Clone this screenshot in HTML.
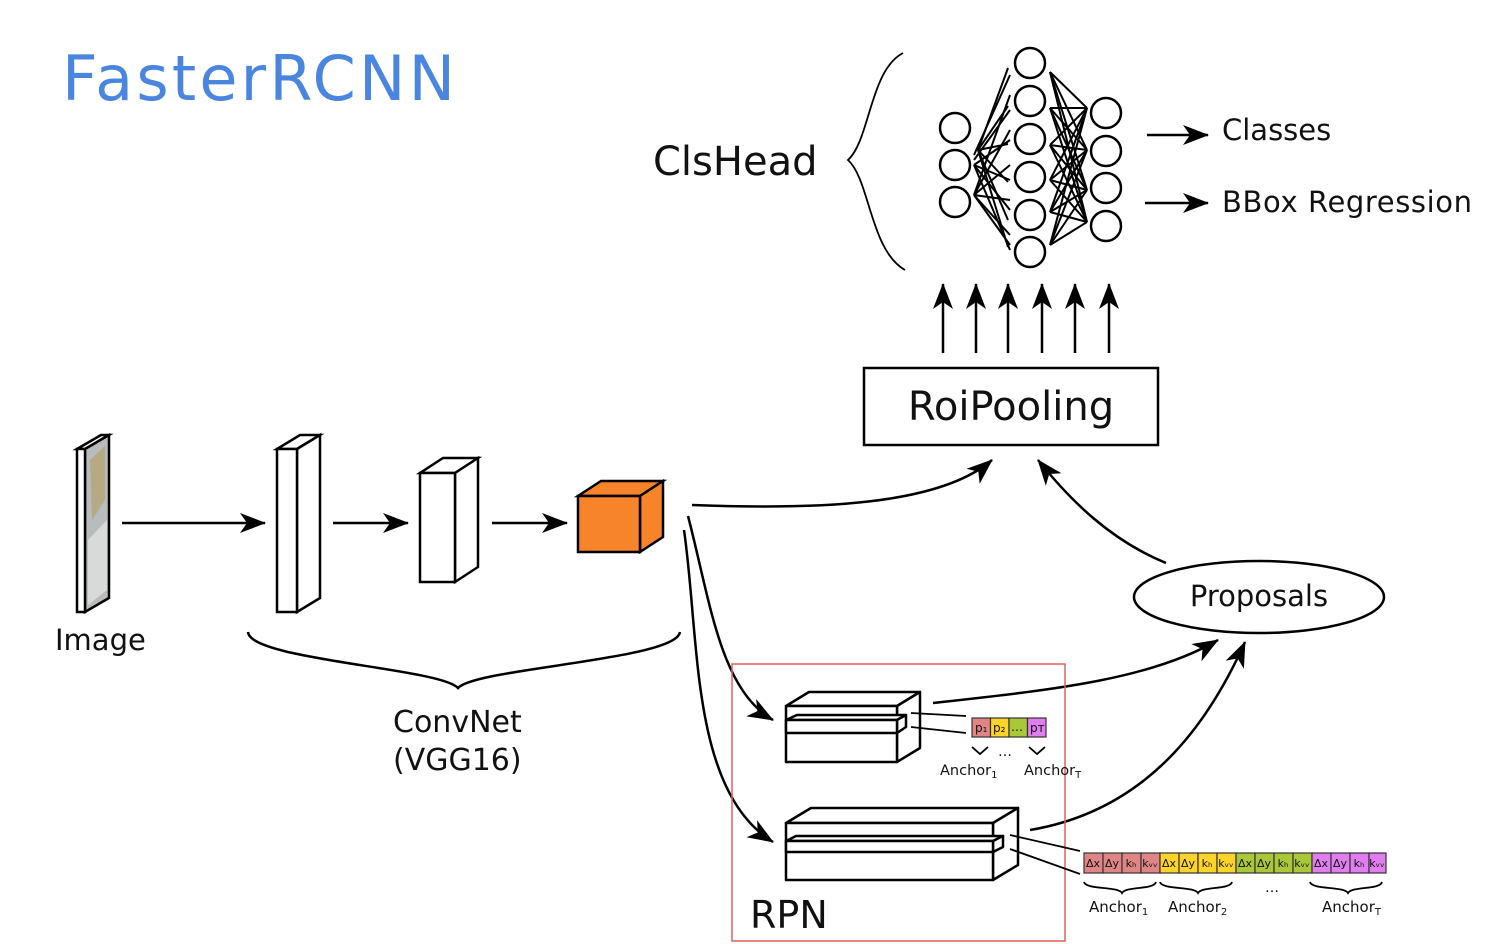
<!DOCTYPE html>
<html><head><meta charset="utf-8"><style>
html,body{margin:0;padding:0;background:#fff;}
svg{display:block;}
text{font-family:"DejaVu Sans","Liberation Sans",sans-serif;fill:#111;}
</style></head><body>
<svg width="1486" height="944" viewBox="0 0 1486 944" xmlns="http://www.w3.org/2000/svg">
<defs>
<marker id="ah2" markerWidth="26" markerHeight="20" refX="25" refY="10" orient="auto" markerUnits="userSpaceOnUse">
<path d="M0,0 L26,10 L0,20 L7,10 z" fill="#000"/>
</marker>
</defs>

<text x="62" y="100" font-size="62" style="fill:#4a86e0" textLength="393">FasterRCNN</text>

<!-- Image slab -->
<g stroke="#000" stroke-width="2.5" fill="#fff">
<polygon points="77,449 101,435 109,435 85,449"/>
<polygon points="85,449 109,435 109,598 85,612" fill="#b8bcbc"/>
<rect x="77" y="449" width="8" height="163"/>
</g>
<path d="M90,460 L105,446 L105,500 L92,520z" fill="#b0a060" opacity="0.6"/>
<path d="M88,540 L107,520 L107,590 L88,605z" fill="#e0e0e0" opacity="0.8"/>

<!-- block1 -->
<g stroke="#000" stroke-width="2.5" fill="#fff">
<polygon points="277,449 297,449 320,435 300,435"/>
<polygon points="297,449 320,435 320,598 297,612"/>
<rect x="277" y="449" width="20" height="163"/>
</g>
<!-- block2 -->
<g stroke="#000" stroke-width="2.5" fill="#fff">
<polygon points="420,473 455,473 478,458 443,458"/>
<polygon points="455,473 478,458 478,567 455,582"/>
<rect x="420" y="473" width="35" height="109"/>
</g>
<!-- orange cube -->
<g stroke="#000" stroke-width="2.5" fill="#f7832a">
<polygon points="578,496 640,496 663,481 601,481"/>
<polygon points="640,496 663,481 663,537 640,552"/>
<rect x="578" y="496" width="62" height="56"/>
</g>

<g stroke="#000" stroke-width="2.5" fill="none">
<line x1="122" y1="523" x2="265" y2="523" marker-end="url(#ah2)"/>
<line x1="333" y1="523" x2="408" y2="523" marker-end="url(#ah2)"/>
<line x1="492" y1="523" x2="567" y2="523" marker-end="url(#ah2)"/>
<path d="M248,632 C250,660 440,668 458,688 C476,668 676,660 680,632"/>
</g>
<text x="55" y="650" font-size="29">Image</text>
<text x="393" y="732" font-size="30">ConvNet</text>
<text x="393" y="770" font-size="30">(VGG16)</text>

<!-- RoiPooling -->
<rect x="864" y="368" width="294" height="77" fill="#fff" stroke="#000" stroke-width="2.5"/>
<text x="1011" y="420" font-size="40" text-anchor="middle">RoiPooling</text>
<g stroke="#000" stroke-width="2.5">
<line x1="943" y1="353" x2="943" y2="284" marker-end="url(#ah2)"/>
<line x1="976" y1="353" x2="976" y2="284" marker-end="url(#ah2)"/>
<line x1="1008" y1="353" x2="1008" y2="284" marker-end="url(#ah2)"/>
<line x1="1042" y1="353" x2="1042" y2="284" marker-end="url(#ah2)"/>
<line x1="1075" y1="353" x2="1075" y2="284" marker-end="url(#ah2)"/>
<line x1="1109" y1="353" x2="1109" y2="284" marker-end="url(#ah2)"/>
</g>

<!-- ClsHead -->
<text x="653" y="175" font-size="40">ClsHead</text>
<path d="M903,53 C870,70 870,140 848,160 C870,180 870,250 905,270" fill="none" stroke="#000" stroke-width="1.8"/>
<g stroke="#000" stroke-width="2">
<line x1="978" y1="150" x2="1008" y2="68"/><line x1="978" y1="150" x2="1008" y2="106"/><line x1="978" y1="150" x2="1008" y2="144"/><line x1="978" y1="150" x2="1008" y2="182"/><line x1="978" y1="150" x2="1008" y2="220"/><line x1="978" y1="150" x2="1008" y2="247"/>
<line x1="974" y1="155" x2="1010" y2="75"/><line x1="974" y1="160" x2="1010" y2="110"/><line x1="974" y1="165" x2="1010" y2="140"/><line x1="974" y1="165" x2="1010" y2="180"/><line x1="974" y1="165" x2="1010" y2="210"/><line x1="974" y1="165" x2="1010" y2="250"/>
<line x1="974" y1="195" x2="1010" y2="95"/><line x1="974" y1="195" x2="1010" y2="130"/><line x1="974" y1="195" x2="1010" y2="165"/><line x1="974" y1="195" x2="1010" y2="200"/><line x1="974" y1="195" x2="1010" y2="235"/><line x1="974" y1="195" x2="1010" y2="245"/>
<line x1="1050" y1="72" x2="1087" y2="108"/><line x1="1050" y1="72" x2="1087" y2="150"/><line x1="1050" y1="72" x2="1087" y2="190"/><line x1="1050" y1="72" x2="1087" y2="222"/>
<line x1="1050" y1="108" x2="1087" y2="108"/><line x1="1050" y1="108" x2="1087" y2="150"/><line x1="1050" y1="108" x2="1087" y2="190"/><line x1="1050" y1="108" x2="1087" y2="222"/>
<line x1="1050" y1="145" x2="1087" y2="108"/><line x1="1050" y1="145" x2="1087" y2="150"/><line x1="1050" y1="145" x2="1087" y2="190"/><line x1="1050" y1="145" x2="1087" y2="222"/>
<line x1="1050" y1="180" x2="1087" y2="108"/><line x1="1050" y1="180" x2="1087" y2="150"/><line x1="1050" y1="180" x2="1087" y2="190"/><line x1="1050" y1="180" x2="1087" y2="222"/>
<line x1="1050" y1="212" x2="1087" y2="108"/><line x1="1050" y1="212" x2="1087" y2="150"/><line x1="1050" y1="212" x2="1087" y2="190"/><line x1="1050" y1="212" x2="1087" y2="222"/>
<line x1="1050" y1="245" x2="1087" y2="108"/><line x1="1050" y1="245" x2="1087" y2="150"/><line x1="1050" y1="245" x2="1087" y2="190"/><line x1="1050" y1="245" x2="1087" y2="222"/>
</g>
<g stroke="#000" stroke-width="2.5" fill="#fff">
<circle cx="955" cy="128" r="15"/><circle cx="955" cy="165" r="15"/><circle cx="955" cy="202" r="15"/>
<circle cx="1030" cy="63" r="15"/><circle cx="1030" cy="101" r="15"/><circle cx="1030" cy="139" r="15"/><circle cx="1030" cy="177" r="15"/><circle cx="1030" cy="215" r="15"/><circle cx="1030" cy="252" r="15"/>
<circle cx="1106" cy="113" r="15"/><circle cx="1106" cy="151" r="15"/><circle cx="1106" cy="188" r="15"/><circle cx="1106" cy="226" r="15"/>
</g>
<g stroke="#000" stroke-width="2.5">
<line x1="1147" y1="135" x2="1208" y2="135" marker-end="url(#ah2)"/>
<line x1="1145" y1="203" x2="1208" y2="203" marker-end="url(#ah2)"/>
</g>
<text x="1222" y="140" font-size="29">Classes</text>
<text x="1222" y="212" font-size="29" textLength="250">BBox Regression</text>

<!-- Proposals -->
<ellipse cx="1259" cy="597" rx="125" ry="36" fill="#fff" stroke="#000" stroke-width="2.5"/>
<text x="1259" y="606" font-size="29" text-anchor="middle">Proposals</text>

<!-- curves -->
<g stroke="#000" stroke-width="2.5" fill="none">
<path d="M692,505 C820,510 940,505 992,460" marker-end="url(#ah2)"/>
<path d="M1166,563 C1110,540 1070,500 1038,460" marker-end="url(#ah2)"/>
<path d="M688,516 C710,600 720,690 773,720" marker-end="url(#ah2)"/>
<path d="M684,530 C700,640 690,790 773,842" marker-end="url(#ah2)"/>
<path d="M933,703 C1050,690 1150,680 1218,640" marker-end="url(#ah2)"/>
<path d="M1030,830 C1150,810 1210,720 1245,642" marker-end="url(#ah2)"/>
</g>

<!-- RPN box -->
<rect x="732" y="664" width="333" height="277" fill="none" stroke="#e06060" stroke-width="1.5"/>
<text x="750" y="928" font-size="38">RPN</text>

<!-- upper rpn block -->
<g stroke="#000" stroke-width="2.5" fill="#fff" stroke-linejoin="round">
<polygon points="786,706 897,706 920,692 809,692"/>
<polygon points="897,706 920,692 920,748 897,762"/>
<rect x="786" y="706" width="111" height="56"/>
<polygon points="786,720 797,715 906,715 897,720"/>
<polygon points="897,720 906,715 906,727 897,733"/>
<rect x="786" y="720" width="111" height="13"/>
</g>
<g stroke="#000" stroke-width="1.8">
<line x1="911" y1="713" x2="966" y2="716"/>
<line x1="911" y1="727" x2="966" y2="733"/>
</g>
<g stroke="#333" stroke-width="1.2">
<rect x="972" y="718" width="18.5" height="19" fill="#e08585"/>
<rect x="990.5" y="718" width="18.5" height="19" fill="#ffd42a"/>
<rect x="1009" y="718" width="18.5" height="19" fill="#a8c83a"/>
<rect x="1027.5" y="718" width="18.5" height="19" fill="#e07ef0"/>
</g>
<g font-size="12">
<text x="975" y="732">p₁</text><text x="993" y="732">p₂</text><text x="1011" y="731">…</text><text x="1030" y="732">pᴛ</text>
</g>
<g stroke="#000" stroke-width="1.8" fill="none">
<path d="M972,747 L980,754 L988,747"/><path d="M1029,747 L1037,754 L1045,747"/>
</g>
<text x="998" y="756" font-size="14">…</text>
<text x="940" y="775" font-size="14.5">Anchor<tspan font-size="10" dy="3">1</tspan></text>
<text x="1024" y="775" font-size="14.5">Anchor<tspan font-size="10" dy="3">T</tspan></text>

<!-- lower rpn block -->
<g stroke="#000" stroke-width="2.5" fill="#fff" stroke-linejoin="round">
<polygon points="786,823 993,823 1018,808 811,808"/>
<polygon points="993,823 1018,808 1018,865 993,880"/>
<rect x="786" y="823" width="207" height="57"/>
<polygon points="786,841 796,836 1003,836 993,841"/>
<polygon points="993,841 1003,836 1003,847 993,852"/>
<rect x="786" y="841" width="207" height="11"/>
</g>
<g stroke="#000" stroke-width="1.8">
<line x1="1010" y1="835" x2="1080" y2="851"/>
<line x1="1010" y1="849" x2="1080" y2="874"/>
</g>
<g stroke="#333" stroke-width="1.2">
<rect x="1084" y="853" width="19" height="20" fill="#e08585"/><rect x="1103" y="853" width="19" height="20" fill="#e08585"/><rect x="1122" y="853" width="19" height="20" fill="#e08585"/><rect x="1141" y="853" width="19" height="20" fill="#e08585"/>
<rect x="1160" y="853" width="19" height="20" fill="#ffd42a"/><rect x="1179" y="853" width="19" height="20" fill="#ffd42a"/><rect x="1198" y="853" width="19" height="20" fill="#ffd42a"/><rect x="1217" y="853" width="19" height="20" fill="#ffd42a"/>
<rect x="1236" y="853" width="19" height="20" fill="#a8c83a"/><rect x="1255" y="853" width="19" height="20" fill="#a8c83a"/><rect x="1274" y="853" width="19" height="20" fill="#a8c83a"/><rect x="1293" y="853" width="19" height="20" fill="#a8c83a"/>
<rect x="1312" y="853" width="19" height="20" fill="#e07ef0"/><rect x="1331" y="853" width="19" height="20" fill="#e07ef0"/><rect x="1350" y="853" width="19" height="20" fill="#e07ef0"/><rect x="1369" y="853" width="17" height="20" fill="#e07ef0"/>
</g>
<g font-size="11" text-anchor="middle" style="fill:#333">
<text x="1093" y="867">Δx</text><text x="1112" y="867">Δy</text><text x="1131" y="867">kₕ</text><text x="1150" y="867">kᵥᵥ</text>
<text x="1169" y="867">Δx</text><text x="1188" y="867">Δy</text><text x="1207" y="867">kₕ</text><text x="1226" y="867">kᵥᵥ</text>
<text x="1245" y="867">Δx</text><text x="1264" y="867">Δy</text><text x="1283" y="867">kₕ</text><text x="1302" y="867">kᵥᵥ</text>
<text x="1321" y="867">Δx</text><text x="1340" y="867">Δy</text><text x="1359" y="867">kₕ</text><text x="1377" y="867">kᵥᵥ</text>
</g>
<g stroke="#000" stroke-width="1.8" fill="none">
<path d="M1084,882 C1086,890 1118,886 1122,893 C1126,886 1154,890 1156,882"/>
<path d="M1160,882 C1162,890 1194,886 1198,893 C1202,886 1230,890 1232,882"/>
<path d="M1310,882 C1312,890 1344,886 1348,893 C1352,886 1380,890 1382,882"/>
</g>
<text x="1265" y="892" font-size="14">…</text>
<text x="1089" y="912" font-size="15">Anchor<tspan font-size="10" dy="3">1</tspan></text>
<text x="1168" y="912" font-size="15">Anchor<tspan font-size="10" dy="3">2</tspan></text>
<text x="1322" y="912" font-size="15">Anchor<tspan font-size="10" dy="3">T</tspan></text>
</svg>
</body></html>
